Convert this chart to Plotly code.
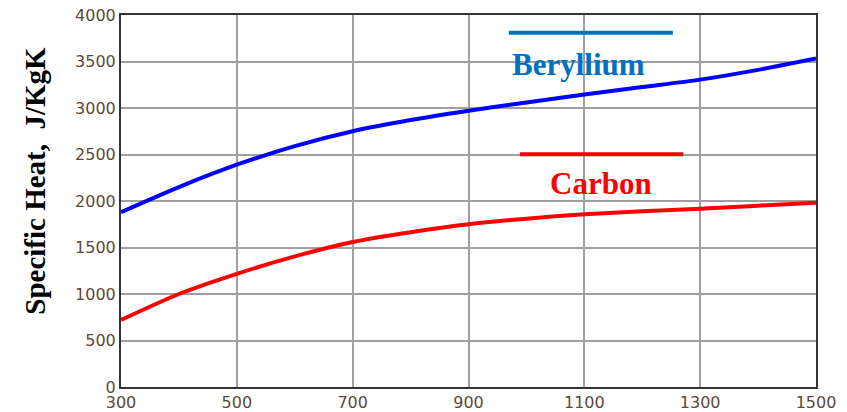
import plotly.graph_objects as go

# Temperature (K)
temperature = [300, 400, 500, 600, 700, 800, 900, 1000, 1100, 1200, 1300, 1400, 1500]
# Specific heat (J/KgK)
beryllium = [1880, 2150, 2390, 2590, 2750, 2870, 2970, 3060, 3145, 3225, 3305, 3410, 3532]
carbon = [720, 1000, 1217, 1405, 1560, 1665, 1750, 1810, 1857, 1890, 1917, 1950, 1982]

x_ticks = [300, 500, 700, 900, 1100, 1300, 1500]
y_ticks = [0, 500, 1000, 1500, 2000, 2500, 3000, 3500, 4000]

fig = go.Figure()
fig.add_trace(go.Scatter(x=temperature, y=beryllium, mode="lines", name="Beryllium",
                         line=dict(color="#0000ff", width=4, shape="spline", smoothing=0.8)))
fig.add_trace(go.Scatter(x=temperature, y=carbon, mode="lines", name="Carbon",
                         line=dict(color="#ff0000", width=4, shape="spline", smoothing=0.8)))

tick_font = dict(family="DejaVu Sans", size=16, color="#5a4a3a")
fig.update_xaxes(range=[300, 1500], tickvals=x_ticks, showgrid=True, gridcolor="#a0a0a0",
                 gridwidth=2, showline=True, linecolor="#333333", linewidth=2, mirror=True,
                 zeroline=False, ticks="", tickfont=tick_font, automargin=False)
fig.update_yaxes(range=[0, 4000], tickvals=y_ticks, showgrid=True, gridcolor="#a0a0a0",
                 gridwidth=2, showline=True, linecolor="#333333", linewidth=2, mirror=True,
                 zeroline=False, ticks="", tickfont=tick_font, automargin=False)

# y-axis title
fig.add_annotation(text="<b>Specific Heat,  J/KgK</b>", xref="paper", yref="paper",
                   x=-0.124, y=0.554, xanchor="center", yanchor="middle", textangle=-90,
                   showarrow=False,
                   font=dict(family="Liberation Serif", size=29, color="#000000"))

# legend-like decorations
fig.add_shape(type="line", xref="paper", yref="paper", x0=0.558, x1=0.794, y0=0.952, y1=0.952,
              line=dict(color="#0070c0", width=4))
fig.add_shape(type="line", xref="paper", yref="paper", x0=0.574, x1=0.809, y0=0.626, y1=0.626,
              line=dict(color="#ff0000", width=4))
fig.add_annotation(text="<b>Beryllium</b>", xref="paper", yref="paper", x=0.658, y=0.868,
                   xanchor="center", yanchor="middle", showarrow=False,
                   font=dict(family="Liberation Serif", size=31, color="#0070c0"))
fig.add_annotation(text="<b>Carbon</b>", xref="paper", yref="paper", x=0.691, y=0.546,
                   xanchor="center", yanchor="middle", showarrow=False,
                   font=dict(family="Liberation Serif", size=31, color="#ff0000"))

fig.update_layout(width=847, height=412, showlegend=False,
                  margin=dict(l=121, r=31, t=15, b=25),
                  paper_bgcolor="white", plot_bgcolor="white")
fig.write_html("out.html")
